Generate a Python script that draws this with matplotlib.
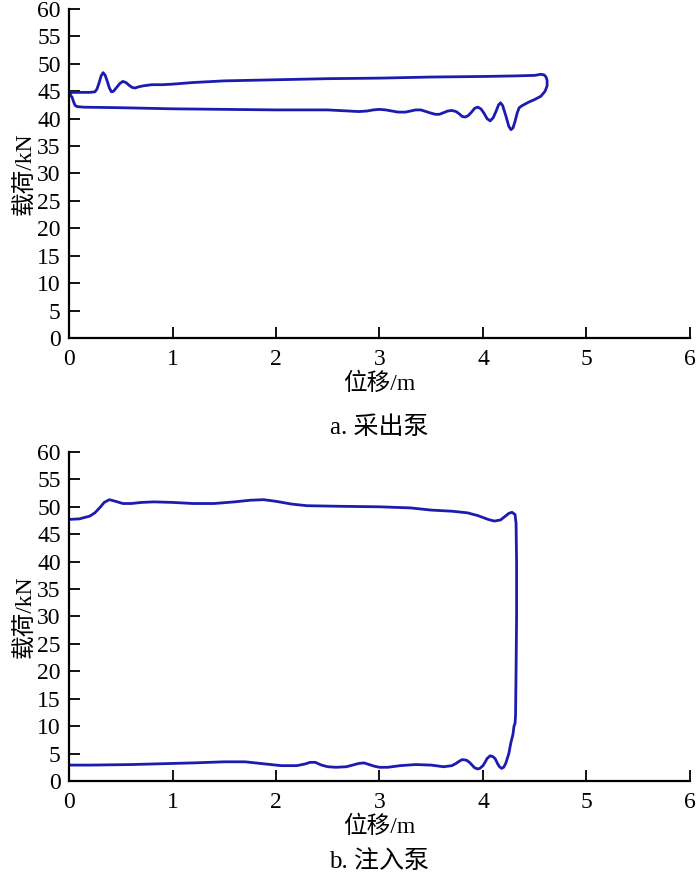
import matplotlib
matplotlib.use("Agg")
import matplotlib.pyplot as plt

plt.rcParams['font.family'] = ['Liberation Serif', 'Noto Sans CJK SC']

# ---- data: panel a (采出泵), closed loop path ----
xa = [0.02, 0.10, 0.20, 0.25, 0.27, 0.29, 0.31, 0.33, 0.35, 0.37, 0.39, 0.41, 0.43, 0.46, 0.49,
      0.52, 0.55, 0.58, 0.61, 0.64, 0.67, 0.72, 0.80, 0.90, 1.0, 1.2, 1.5, 2.0, 2.5, 3.0, 3.5,
      4.0, 4.3, 4.50, 4.56, 4.59, 4.61, 4.62, 4.62, 4.60, 4.56, 4.50, 4.44, 4.38, 4.35, 4.33,
      4.31, 4.29, 4.27, 4.25, 4.22, 4.19, 4.17, 4.15, 4.13, 4.10, 4.07, 4.04, 4.01, 3.98, 3.95,
      3.92, 3.89, 3.86, 3.83, 3.80, 3.77, 3.74, 3.70, 3.66, 3.62, 3.58, 3.54, 3.50, 3.45, 3.40,
      3.35, 3.30, 3.25, 3.18, 3.12, 3.06, 3.00, 2.94, 2.88, 2.80, 2.5, 2.0, 1.5, 1.0, 0.5,
      0.14, 0.08, 0.06, 0.05, 0.04, 0.03, 0.01, 0.02]
ya = [44.8, 44.8, 44.8, 44.9, 45.4, 46.5, 47.8, 48.4, 47.9, 46.8, 45.6, 44.9, 45.0, 45.7, 46.4,
      46.8, 46.6, 46.1, 45.7, 45.6, 45.8, 46.0, 46.2, 46.2, 46.3, 46.6, 46.9, 47.1, 47.3, 47.4, 47.6,
      47.7, 47.8, 47.9, 48.1, 48.0, 47.6, 47.0, 46.0, 45.0, 44.1, 43.5, 43.0, 42.4, 42.0, 41.0,
      39.5, 38.3, 38.0, 38.6, 40.6, 42.4, 42.9, 42.5, 41.5, 40.2, 39.6, 40.0, 41.0, 41.8, 42.1,
      41.9, 41.2, 40.6, 40.3, 40.4, 40.9, 41.3, 41.5, 41.4, 41.1, 40.8, 40.8, 41.0, 41.3, 41.6,
      41.6, 41.4, 41.2, 41.2, 41.4, 41.6, 41.7, 41.6, 41.4, 41.3, 41.6, 41.6, 41.7, 41.8, 42.0,
      42.1, 42.2, 42.4, 42.8, 43.3, 43.9, 44.4, 44.8]

# ---- data: panel b (注入泵) ----
xb = [0.0, 0.1, 0.2, 0.25, 0.30, 0.34, 0.39, 0.45, 0.52, 0.6, 0.7, 0.82, 1.0, 1.2, 1.4, 1.6,
      1.75, 1.88, 2.0, 2.15, 2.3, 2.6, 3.0, 3.3, 3.5, 3.7, 3.85, 3.95, 4.05, 4.11, 4.17, 4.21,
      4.25, 4.28, 4.31, 4.32, 4.325, 4.325, 4.32, 4.315, 4.31, 4.30, 4.29, 4.27, 4.25, 4.22,
      4.20, 4.18, 4.16, 4.14, 4.12, 4.10, 4.07, 4.04, 4.02, 4.0, 3.97, 3.95, 3.92, 3.90, 3.87,
      3.84, 3.80, 3.77, 3.74, 3.70, 3.62, 3.5, 3.35, 3.2, 3.08, 3.00, 2.95, 2.90, 2.85, 2.80,
      2.74, 2.68, 2.58, 2.50, 2.44, 2.38, 2.33, 2.28, 2.2, 2.05, 1.9, 1.7, 1.5, 1.2, 1.0, 0.6,
      0.2, 0.0]
yb = [47.7, 47.8, 48.3, 48.9, 49.9, 50.8, 51.3, 51.0, 50.6, 50.6, 50.8, 50.9, 50.8, 50.6, 50.6,
      50.9, 51.2, 51.3, 51.0, 50.5, 50.2, 50.1, 50.0, 49.8, 49.4, 49.2, 48.9, 48.4, 47.7, 47.4,
      47.6, 48.2, 48.8, 49.0, 48.6, 47.0, 40.0, 30.0, 20.0, 12.0, 10.5, 10.0, 8.5, 7.0, 5.0, 3.2,
      2.5, 2.3, 2.6, 3.2, 4.0, 4.4, 4.6, 4.1, 3.4, 2.8, 2.3, 2.2, 2.4, 2.8, 3.4, 3.8, 3.9, 3.6,
      3.2, 2.8, 2.6, 2.9, 3.0, 2.8, 2.5, 2.5, 2.7, 3.0, 3.3, 3.2, 2.9, 2.6, 2.5, 2.6, 2.9, 3.4,
      3.4, 3.1, 2.8, 2.8, 3.1, 3.5, 3.5, 3.3, 3.2, 3.0, 2.9, 2.9]

xticks = [0, 1, 2, 3, 4, 5, 6]
yticks = [0, 5, 10, 15, 20, 25, 30, 35, 40, 45, 50, 55, 60]
xlabel = "位移/m"
ylabel = "载荷/kN"
captions = ["a. 采出泵", "b. 注入泵"]

color = "#1b1bb0"

fig = plt.figure(figsize=(7, 8.8), dpi=100)
ax1 = fig.add_axes([0.0986, 0.616, 0.887, 0.3737])
ax2 = fig.add_axes([0.0986, 0.1125, 0.887, 0.3739])

for ax, xs, ys, cap, capy in [(ax1, xa, ya, captions[0], 1 - 428 / 880),
                              (ax2, xb, yb, captions[1], 1 - 862 / 880)]:
    ax.plot(xs, ys, color=color, lw=2.0, solid_joinstyle='round', solid_capstyle='round')
    ax.set_xlim(0, 6)
    ax.set_ylim(0, 60)
    ax.set_xticks(xticks)
    ax.set_yticks(yticks)
    ax.spines['top'].set_visible(False)
    ax.spines['right'].set_visible(False)
    for s in ['left', 'bottom']:
        ax.spines[s].set_linewidth(1.6)
    ax.tick_params(direction='in', length=8, width=1.3, labelsize=17)
    ax.tick_params(axis='x', pad=8)
    ax.tick_params(axis='y', pad=6)
    ax.set_xlabel(xlabel, fontsize=17, labelpad=2)
    ax.set_ylabel(ylabel, fontsize=17, labelpad=0)
    fig.text(0.0986 + 0.887 / 2, capy, cap, ha='center', va='center', fontsize=18)

fig.savefig("out.png", dpi=100)
